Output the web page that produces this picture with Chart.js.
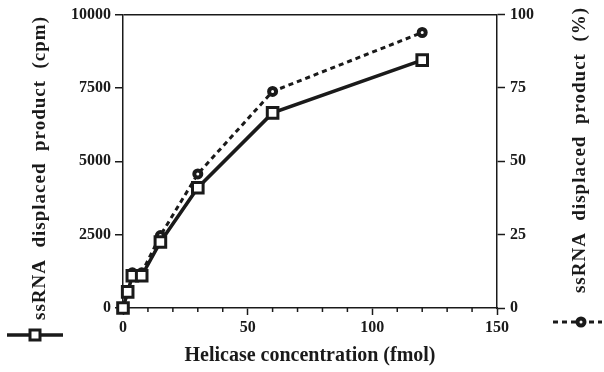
<!DOCTYPE html>
<html>
<head>
<meta charset="utf-8">
<script src="https://cdn.jsdelivr.net/npm/chart.js@4"></script>
<style>
  body { margin: 0; background: #fff; }
  #wrap { width: 604px; height: 372px; }
</style>
</head>
<body>
<div id="wrap"><canvas id="helicaseChart" width="604" height="372"></canvas></div>
<script>
// helicase amounts (fmol), doubling series
const concentrations = [0, 1.875, 3.75, 7.5, 15, 30, 60, 120];
const displacedCpm = [0, 550, 1100, 1100, 2250, 4100, 6650, 8450];
const displacedPct = [0, 5.5, 12, 12, 24.7, 45.7, 73.8, 93.9];
const cpmTicks = [0, 2500, 5000, 7500, 10000];
const pctTicks = [0, 25, 50, 75, 100];
const xMajorTicks = [0, 50, 100, 150];

const FONT = "'Liberation Serif', 'Times New Roman', serif";
const INK = '#1a1a1a';

function toPoints(xs, ys) {
    return xs.map((x, i) => ({ x: x, y: ys[i] }));
}

// legends, y titles and the short minor ticks
const extras = {
    id: 'extras',
    afterDraw(chart) {
        const c = chart.ctx;
        const xs = chart.scales.x;
        c.save();
        c.strokeStyle = INK;
        c.fillStyle = INK;

        // minor ticks on x axis
        c.lineWidth = 1.5;
        const yb = chart.chartArea.bottom;
        for (let v = 10; v < 150; v += 10) {
            if (xMajorTicks.includes(v)) continue;
            const px = xs.getPixelForValue(v);
            c.beginPath();
            c.moveTo(px, yb);
            c.lineTo(px, yb + 4);
            c.stroke();
        }

        // y titles
        c.font = "bold 19px " + FONT;
        c.letterSpacing = '1px';
        c.textAlign = 'center';
        c.textBaseline = 'middle';
        c.save();
        c.translate(40, 168);
        c.rotate(-Math.PI / 2);
        c.fillText('ssRNA  displaced  product  (cpm)', 0, 0);
        c.restore();
        c.save();
        c.translate(580, 150);
        c.rotate(-Math.PI / 2);
        c.fillText('ssRNA  displaced  product  (%)', 0, 0);
        c.restore();
        c.letterSpacing = '0px';

        // legend: cpm series
        c.lineWidth = 3.5;
        c.setLineDash([]);
        c.beginPath();
        c.moveTo(7, 335);
        c.lineTo(63, 335);
        c.stroke();
        c.fillStyle = '#fff';
        c.lineWidth = 3;
        c.fillRect(30, 330, 10, 10);
        c.strokeRect(30, 330, 10, 10);

        // legend: % series
        c.lineWidth = 3;
        c.setLineDash([5, 4]);
        c.beginPath();
        c.moveTo(553, 322);
        c.lineTo(602, 322);
        c.stroke();
        c.setLineDash([]);
        c.beginPath();
        c.arc(581, 322, 3.5, 0, Math.PI * 2);
        c.fillStyle = '#fff';
        c.fill();
        c.lineWidth = 4;
        c.stroke();
        c.restore();
    }
};

function createHelicaseChart() {
    const ctx = document.getElementById('helicaseChart');
    if (!ctx) return;

    const tickFont = { family: FONT, size: 16, weight: 'bold' };

    new Chart(ctx, {
        type: 'line',
        data: {
            datasets: [
                {
                    label: 'cpm',
                    data: toPoints(concentrations, displacedCpm),
                    yAxisID: 'y',
                    borderColor: INK,
                    borderWidth: 3.5,
                    pointStyle: 'rect',
                    pointRadius: 7.5,
                    pointBorderWidth: 3,
                    pointBackgroundColor: '#fff',
                    pointBorderColor: INK,
                    tension: 0,
                    clip: false
                },
                {
                    label: '%',
                    data: toPoints(concentrations, displacedPct),
                    yAxisID: 'y2',
                    borderColor: INK,
                    borderWidth: 3,
                    borderDash: [5, 4],
                    pointStyle: 'circle',
                    pointRadius: 3.5,
                    pointBorderWidth: 4,
                    pointBackgroundColor: '#fff',
                    pointBorderColor: INK,
                    tension: 0,
                    clip: false
                }
            ]
        },
        options: {
            responsive: false,
            animation: false,
            layout: { padding: { top: 14, left: 0, right: 0, bottom: 0 } },
            plugins: { legend: { display: false }, tooltip: { enabled: false } },
            scales: {
                x: {
                    type: 'linear',
                    min: 0,
                    max: 150,
                    afterFit: s => { s.height = 64; },
                    afterBuildTicks: s => { s.ticks = xMajorTicks.map(v => ({ value: v })); },
                    border: { color: INK, width: 1.5 },
                    grid: { drawOnChartArea: false, tickLength: 7, tickColor: INK, tickWidth: 1.5 },
                    ticks: { color: INK, padding: 3, font: tickFont, callback: v => String(v) },
                    title: {
                        display: true,
                        text: 'Helicase concentration (fmol)',
                        color: INK,
                        padding: { top: 4 },
                        font: { family: FONT, size: 20, weight: 'bold' }
                    }
                },
                y: {
                    position: 'left',
                    min: 0,
                    max: 10000,
                    afterFit: s => { s.width = 123; },
                    afterBuildTicks: s => { s.ticks = cpmTicks.map(v => ({ value: v })); },
                    border: { color: INK, width: 1.5 },
                    grid: {
                        drawOnChartArea: true,
                        color: c => (c.tick && c.tick.value === 10000 ? INK : 'rgba(0,0,0,0)'),
                        lineWidth: 1.5,
                        tickLength: 8,
                        tickColor: INK,
                        tickWidth: 1.5
                    },
                    ticks: { color: INK, padding: 4, font: tickFont, callback: v => String(v) }
                },
                y2: {
                    position: 'right',
                    min: 0,
                    max: 100,
                    afterFit: s => { s.width = 107; },
                    afterBuildTicks: s => { s.ticks = pctTicks.map(v => ({ value: v })); },
                    border: { color: INK, width: 1.5 },
                    grid: { drawOnChartArea: false, tickLength: 8, tickColor: INK, tickWidth: 1.5 },
                    ticks: { color: INK, padding: 5, font: tickFont, callback: v => String(v) }
                }
            }
        },
        plugins: [extras]
    });
}

document.addEventListener('DOMContentLoaded', () => {
    createHelicaseChart();
});
</script>
</body>
</html>
